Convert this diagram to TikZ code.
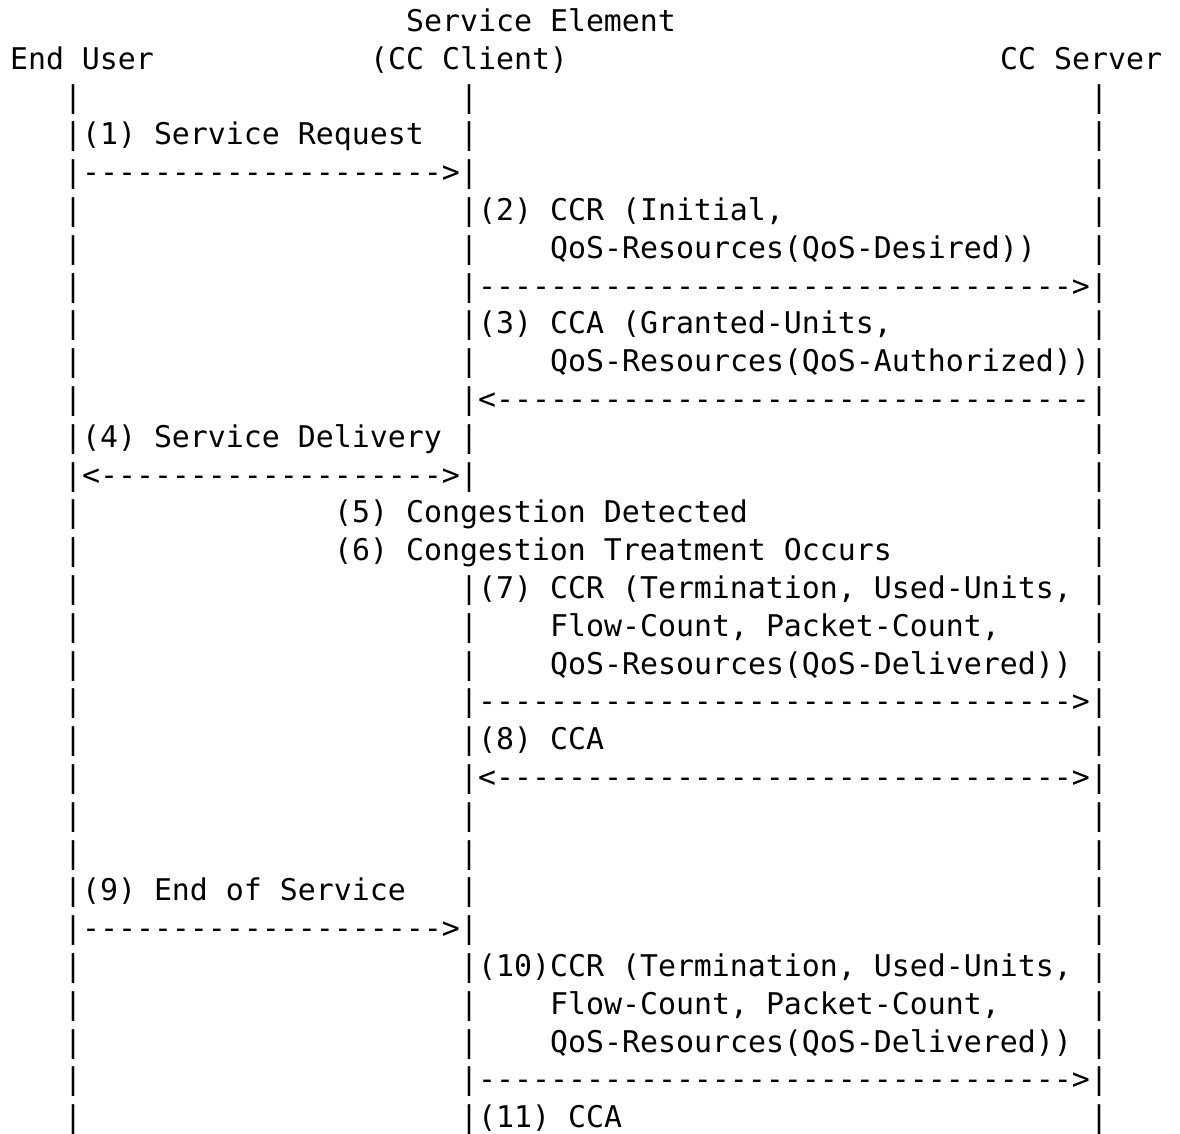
\documentclass[tikz,border=0pt]{standalone}
\usepackage{fontspec}
\setmonofont{DejaVu Sans Mono}
\tikzset{
  txt/.style={inner sep=0pt, outer sep=0pt, anchor=base west, text=black,
    font=\ttfamily\fontsize{14.95pt}{18pt}\selectfont}
}
\newcommand\frag[4]{\node[txt] (#1) at (#2,#3) {#4};}
\begin{document}
\begin{tikzpicture}[x=9pt,y=-18.9pt]
\useasboundingbox[fill=white] (0,0) rectangle (65.556,30);
\begin{scope}[shift={(0.5556,0.8333)}]
% headers
\frag{se}{22}{0}{Service Element}
\frag{eu}{0}{1}{End User}
\frag{cc}{20}{1}{(CC Client)}
\frag{cs}{55}{1}{CC Server}
% lifelines
\foreach \l in {2,...,29} {\node[txt] (lp\l) at (3,\l) {|};}
\foreach \l in {2,...,12,15,16,...,29} {\node[txt] (mp\l) at (25,\l) {|};}
\foreach \l in {2,...,29} {\node[txt] (rp\l) at (60,\l) {|};}
% messages
\frag{m1}{4}{3}{(1) Service Request}
\frag{a1}{4}{4}{-------------------->}
\frag{m2a}{26}{5}{(2) CCR (Initial,}
\frag{m2b}{30}{6}{QoS-Resources(QoS-Desired))}
\frag{a2}{26}{7}{--------------------------------->}
\frag{m3a}{26}{8}{(3) CCA (Granted-Units,}
\frag{m3b}{30}{9}{QoS-Resources(QoS-Authorized))}
\frag{a3}{26}{10}{<---------------------------------}
\frag{m4}{4}{11}{(4) Service Delivery}
\frag{a4}{4}{12}{<------------------->}
\frag{m5}{18}{13}{(5) Congestion Detected}
\frag{m6}{18}{14}{(6) Congestion Treatment Occurs}
\frag{m7a}{26}{15}{(7) CCR (Termination, Used-Units,}
\frag{m7b}{30}{16}{Flow-Count, Packet-Count,}
\frag{m7c}{30}{17}{QoS-Resources(QoS-Delivered))}
\frag{a7}{26}{18}{--------------------------------->}
\frag{m8}{26}{19}{(8) CCA}
\frag{a8}{26}{20}{<-------------------------------->}
\frag{m9}{4}{23}{(9) End of Service}
\frag{a9}{4}{24}{-------------------->}
\frag{m10a}{26}{25}{(10)CCR (Termination, Used-Units,}
\frag{m10b}{30}{26}{Flow-Count, Packet-Count,}
\frag{m10c}{30}{27}{QoS-Resources(QoS-Delivered))}
\frag{a10}{26}{28}{--------------------------------->}
\frag{m11}{26}{29}{(11) CCA}
\end{scope}
\end{tikzpicture}
\end{document}
